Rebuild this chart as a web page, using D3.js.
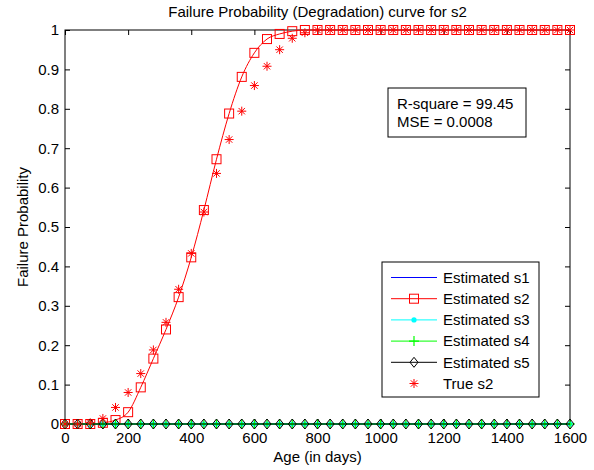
<!DOCTYPE html>
<html>
<head>
<meta charset="utf-8">
<script src="https://cdn.jsdelivr.net/npm/d3@7"></script>
<style>
  body { margin: 0; background: #fff; }
  svg { display: block; }
  text { font-family: "Liberation Sans", Arial, Helvetica, sans-serif; fill: #000; }
</style>
</head>
<body>
<svg id="chart" width="594" height="470"></svg>
<script>
// Data (age in days, failure probability)
const days = [0, 40, 80, 120, 160, 200, 240, 280, 320, 360, 400, 440, 480, 520, 560, 600, 640, 680, 720, 760,
  800, 840, 880, 920, 960, 1000, 1040, 1080, 1120, 1160, 1200, 1240, 1280, 1320, 1360, 1400, 1440, 1480, 1520, 1560, 1600];
const estS2 = [0, 0, 0, 0.003, 0.01, 0.03, 0.093, 0.166, 0.24, 0.322, 0.423, 0.543, 0.672, 0.788, 0.881, 0.942, 0.977, 0.99, 0.997, 1,
  1, 1, 1, 1, 1, 1, 1, 1, 1, 1, 1, 1, 1, 1, 1, 1, 1, 1, 1, 1, 1];
const trueS2 = [0, 0, 0.003, 0.014, 0.042, 0.08, 0.128, 0.188, 0.258, 0.342, 0.433, 0.538, 0.636, 0.722, 0.794, 0.859, 0.908, 0.95, 0.979, 0.993,
  1, 1, 1, 1, 1, 1, 1, 1, 1, 1, 1, 1, 1, 1, 1, 1, 1, 1, 1, 1, 1];
// s1, s3, s4, s5 all sit on zero
const estFlat = [0, 0, 0, 0, 0, 0, 0, 0, 0, 0, 0, 0, 0, 0, 0, 0, 0, 0, 0, 0,
  0, 0, 0, 0, 0, 0, 0, 0, 0, 0, 0, 0, 0, 0, 0, 0, 0, 0, 0, 0, 0];

const xTicks = [0, 200, 400, 600, 800, 1000, 1200, 1400, 1600];
const yTicks = [0, 0.1, 0.2, 0.3, 0.4, 0.5, 0.6, 0.7, 0.8, 0.9, 1];
const legendLabels = ["Estimated s1", "Estimated s2", "Estimated s3", "Estimated s4", "Estimated s5", "True s2"];
const statLines = ["R-square = 99.45", "MSE = 0.0008"];

// Layout (plot box in pixels)
const plotLeft = 65, plotRight = 570, plotTop = 30, plotBottom = 424;
const svg = d3.select("#chart");

const x = d3.scaleLinear().domain([0, 1600]).range([plotLeft, plotRight]);
const y = d3.scaleLinear().domain([0, 1]).range([plotBottom, plotTop]);

// axes, ticks pointing inward like matlab
const fmtY = d => (d === 0 ? "0" : d === 1 ? "1" : d3.format(".1f")(d));

svg.append("g")
  .attr("transform", `translate(0,${plotBottom})`)
  .call(d3.axisBottom(x).tickValues(xTicks).tickSizeInner(-5).tickSizeOuter(0).tickPadding(8).tickFormat(d3.format("d")))
  .call(g => g.select(".domain").remove());
svg.append("g")
  .attr("transform", `translate(0,${plotTop})`)
  .call(d3.axisTop(x).tickValues(xTicks).tickSizeInner(-5).tickSizeOuter(0).tickFormat(""))
  .call(g => g.select(".domain").remove());
svg.append("g")
  .attr("transform", `translate(${plotLeft},0)`)
  .call(d3.axisLeft(y).tickValues(yTicks).tickSizeInner(-5).tickSizeOuter(0).tickPadding(6).tickFormat(fmtY))
  .call(g => g.select(".domain").remove());
svg.append("g")
  .attr("transform", `translate(${plotRight},0)`)
  .call(d3.axisRight(y).tickValues(yTicks).tickSizeInner(-5).tickSizeOuter(0).tickFormat(""))
  .call(g => g.select(".domain").remove());

svg.selectAll(".tick text")
  .attr("font-size", "15px")
  .attr("font-family", "Liberation Sans, Arial, sans-serif");
svg.selectAll(".tick line").attr("stroke", "#000");

// frame
svg.append("rect")
  .attr("x", plotLeft).attr("y", plotTop)
  .attr("width", plotRight - plotLeft).attr("height", plotBottom - plotTop)
  .attr("fill", "none").attr("stroke", "#000").attr("stroke-width", 1);

// titles
svg.append("text")
  .attr("x", (plotLeft + plotRight) / 2).attr("y", 17)
  .attr("text-anchor", "middle").attr("font-size", "15px")
  .text("Failure Probability (Degradation) curve for s2");
svg.append("text")
  .attr("x", (plotLeft + plotRight) / 2).attr("y", 462)
  .attr("text-anchor", "middle").attr("font-size", "15px")
  .text("Age (in days)");
svg.append("text")
  .attr("transform", `translate(28,${(plotTop + plotBottom) / 2}) rotate(-90)`)
  .attr("text-anchor", "middle").attr("font-size", "15px")
  .text("Failure Probability");

// marker drawers
function square(g, cx, cy) {
  g.append("rect").attr("x", cx - 4.5).attr("y", cy - 4.5).attr("width", 9).attr("height", 9)
    .attr("fill", "none").attr("stroke", "#ff0000").attr("stroke-width", 1);
}
function dot(g, cx, cy) {
  g.append("circle").attr("cx", cx).attr("cy", cy).attr("r", 2.6).attr("fill", "#00ffff");
}
function plus(g, cx, cy) {
  g.append("path").attr("d", `M${cx - 5},${cy}H${cx + 5}M${cx},${cy - 5}V${cy + 5}`)
    .attr("stroke", "#00ff00").attr("stroke-width", 1.2);
}
function diamond(g, cx, cy) {
  g.append("path").attr("d", `M${cx},${cy - 5}L${cx + 4},${cy}L${cx},${cy + 5}L${cx - 4},${cy}Z`)
    .attr("fill", "none").attr("stroke", "#000").attr("stroke-width", 1);
}
function star(g, cx, cy) {
  const s = 4.5, d = 3.2;
  g.append("path")
    .attr("d", `M${cx - s},${cy}H${cx + s}M${cx},${cy - s}V${cy + s}M${cx - d},${cy - d}L${cx + d},${cy + d}M${cx - d},${cy + d}L${cx + d},${cy - d}`)
    .attr("stroke", "#ff0000").attr("stroke-width", 1);
}

const plotG = svg.append("g");

const series = [
  { values: estFlat, color: "#0000ff", marker: null, curve: d3.curveLinear },
  { values: estS2, color: "#ff0000", marker: square, curve: d3.curveMonotoneX },
  { values: estFlat, color: "#00ffff", marker: dot, curve: d3.curveLinear },
  { values: estFlat, color: "#00ff00", marker: plus, curve: d3.curveLinear },
  { values: estFlat, color: "#000000", marker: diamond, curve: d3.curveLinear },
  { values: trueS2, color: "#ff0000", marker: star, curve: null }
];

series.forEach(s => {
  const g = plotG.append("g");
  if (s.curve) {
    const line = d3.line().x((d, i) => x(days[i])).y(d => y(d)).curve(s.curve);
    g.append("path").attr("d", line(s.values))
      .attr("fill", "none").attr("stroke", s.color).attr("stroke-width", 1);
  }
  if (s.marker) {
    s.values.forEach((v, i) => s.marker(g, x(days[i]), y(v)));
  }
});

// stats box
const statG = svg.append("g");
statG.append("rect").attr("x", 388).attr("y", 88).attr("width", 138).attr("height", 49)
  .attr("fill", "#fff").attr("stroke", "#000").attr("stroke-width", 1);
statLines.forEach((t, i) => {
  statG.append("text").attr("x", 397).attr("y", 109 + i * 18).attr("font-size", "15px").text(t);
});

// legend
const legend = svg.append("g");
legend.append("rect").attr("x", 382).attr("y", 262).attr("width", 157).attr("height", 135)
  .attr("fill", "#fff").attr("stroke", "#000").attr("stroke-width", 1);
legendLabels.forEach((label, i) => {
  const ly = 277.5 + i * 21.2;
  const s = series[i];
  const g = legend.append("g");
  if (s.curve) {
    g.append("path").attr("d", `M391,${ly}H437`).attr("stroke", s.color).attr("stroke-width", 1);
  }
  if (s.marker) s.marker(g, 414, ly);
  g.append("text").attr("x", 443).attr("y", ly + 5.3).attr("font-size", "15px").text(label);
});
</script>
</body>
</html>
